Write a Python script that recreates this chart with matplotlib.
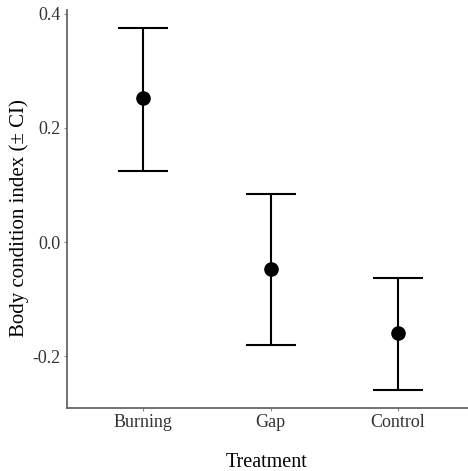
import matplotlib.pyplot as plt
import numpy as np

plt.rcParams['font.family'] = ['Liberation Serif', 'DejaVu Serif']

treatments = ['Burning', 'Gap', 'Control']
means = [0.252, -0.048, -0.160]
ci_upper = [0.375, 0.084, -0.063]
ci_lower = [0.125, -0.180, -0.259]

x = np.arange(len(treatments))
means = np.array(means)
yerr = np.array([means - np.array(ci_lower), np.array(ci_upper) - means])

fig = plt.figure(figsize=(4.68, 4.71), dpi=100)
ax = fig.add_axes([66.5 / 468, 63 / 471, 408 / 468, 398 / 471])

ax.errorbar(x, means, yerr=yerr, fmt='none', ecolor='black',
            elinewidth=1.5, capsize=18, capthick=1.5)
ax.plot(x, means, 'o', color='black', markersize=9.5)

# ggplot-style padding: 0.6 units on discrete x, 5% on y
ax.set_xlim(-0.6, len(treatments) - 0.4)
lo, hi = min(ci_lower), max(ci_upper)
pad = (hi - lo) * 0.05
ax.set_ylim(lo - pad, hi + pad)

ax.set_xticks(x)
ax.set_xticklabels(treatments)
ax.set_yticks([-0.2, 0.0, 0.2, 0.4])
ax.set_yticklabels(['-0.2', '0.0', '0.2', '0.4'])

ax.spines['right'].set_visible(False)
ax.spines['top'].set_visible(False)
for s in ('left', 'bottom'):
    ax.spines[s].set_color('#666666')
    ax.spines[s].set_linewidth(1.3)
ax.tick_params(length=2, width=0.8, color='#888888', labelsize=13,
               labelcolor='#333333', pad=2)

ax.set_xlabel('Treatment', fontsize=14.5)
ax.set_ylabel('Body condition index (± CI)', fontsize=15)
ax.xaxis.set_label_coords(0.5 - 3.5 / 408, -45 / 398)
ax.yaxis.set_label_coords(-37.5 / 408, 0.477)

fig.savefig('out.png', dpi=100)
